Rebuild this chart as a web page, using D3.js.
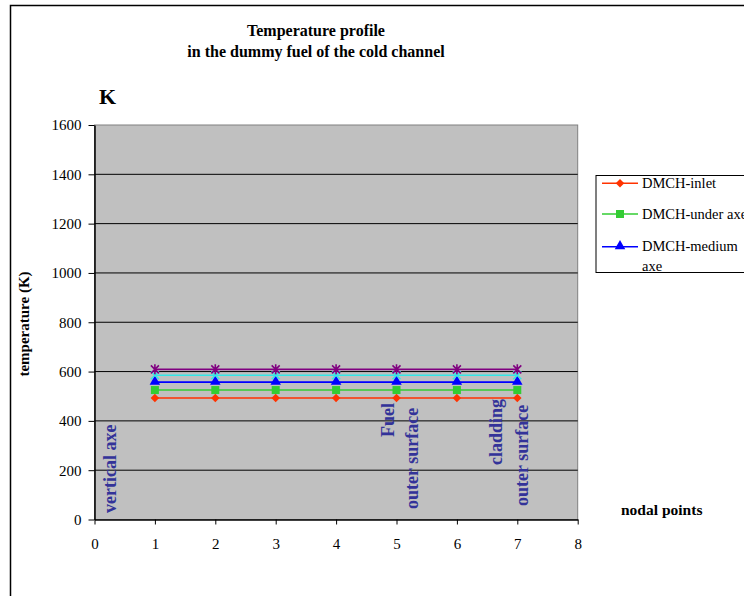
<!DOCTYPE html>
<html>
<head>
<meta charset="utf-8">
<script src="https://cdn.jsdelivr.net/npm/d3@7/dist/d3.min.js"></script>
<style>
  html, body { margin: 0; padding: 0; background: #fff; }
  svg { display: block; font-family: "Liberation Serif", "Times New Roman", serif; }
</style>
</head>
<body>
<svg id="chart" width="744" height="596"></svg>
<script>
// Nodal points along the radius of the dummy fuel
const nodes = [1, 2, 3, 4, 5, 6, 7];

// Temperatures (K) at each nodal point, per axial level
const inlet   = [493, 493, 493, 493, 493, 493, 493];
const under   = [525, 525, 525, 525, 525, 525, 525];
const medium  = [557, 557, 557, 557, 557, 557, 557];
const upper   = [585, 585, 585, 585, 585, 585, 585];
const outlet  = [609, 609, 609, 609, 609, 609, 609];

const seriesNames  = ["DMCH-inlet", "DMCH-under axe", "DMCH-medium axe", "DMCH-upper axe", "DMCH-outlet"];
const seriesColors = ["#ff3300", "#33cc33", "#0000ff", "#33e6e6", "#800080"];
const seriesShapes = ["diamond", "square", "triangle", "x", "star"];

const xTicks = [0, 1, 2, 3, 4, 5, 6, 7, 8];
const yTicks = [0, 200, 400, 600, 800, 1000, 1200, 1400, 1600];

const series = [inlet, under, medium, upper, outlet].map((vals, i) => ({
  name: seriesNames[i], color: seriesColors[i], shape: seriesShapes[i],
  points: nodes.map((n, j) => ({ x: n, y: vals[j] }))
}));

const svg = d3.select("#chart");
const plot = { left: 94.5, right: 577.7, top: 125, bottom: 519.5 };

const x = d3.scaleLinear().domain([0, 8]).range([plot.left, plot.right]);
const y = d3.scaleLinear().domain([0, 1600]).range([plot.bottom, plot.top]);

// Chart frame
svg.append("rect").attr("x", 10.5).attr("y", 5.5).attr("width", 760).attr("height", 620)
  .attr("fill", "#fff").attr("stroke", "#000").attr("stroke-width", 1.5);

// Title
const title = svg.append("text").attr("text-anchor", "middle")
  .attr("font-weight", "bold").attr("font-size", 16).attr("fill", "#000");
title.append("tspan").attr("x", 316).attr("y", 36).text("Temperature profile");
title.append("tspan").attr("x", 316).attr("y", 57).text("in the dummy fuel of the cold channel");

// Unit label
svg.append("text").attr("x", 99).attr("y", 104).attr("font-weight", "bold")
  .attr("font-size", 22).text("K");

// Plot area
svg.append("rect").attr("x", plot.left).attr("y", plot.top)
  .attr("width", plot.right - plot.left).attr("height", plot.bottom - plot.top)
  .attr("fill", "#c0c0c0").attr("stroke", "#808080").attr("stroke-width", 1);

// Horizontal gridlines
svg.append("g").selectAll("line").data(yTicks.filter(d => d > 0 && d < 1600)).join("line")
  .attr("x1", plot.left).attr("x2", plot.right)
  .attr("y1", d => y(d)).attr("y2", d => y(d))
  .attr("stroke", "#000").attr("stroke-width", 1);

// Axes
const yAxis = svg.append("g").attr("transform", `translate(${plot.left},0)`)
  .call(d3.axisLeft(y).tickValues(yTicks).tickFormat(d3.format("d"))
    .tickSize(6).tickPadding(7).tickSizeOuter(0));
const xAxis = svg.append("g").attr("transform", `translate(0,${plot.bottom})`)
  .call(d3.axisBottom(x).tickValues(xTicks).tickFormat(d3.format("d"))
    .tickSize(5).tickPadding(14).tickSizeOuter(0));
[yAxis, xAxis].forEach(a => {
  a.attr("font-family", "Liberation Serif, Times New Roman, serif").attr("font-size", 15);
  a.selectAll("text").attr("fill", "#000");
  a.selectAll("line").attr("stroke", "#000");
  a.select(".domain").attr("stroke", "#000").attr("stroke-width", 1.5);
});

// Axis titles
svg.append("text").attr("transform", "translate(28.5,324) rotate(-90)")
  .attr("text-anchor", "middle").attr("font-weight", "bold").attr("font-size", 15)
  .text("temperature (K)");
svg.append("text").attr("x", 621).attr("y", 515).attr("font-weight", "bold")
  .attr("font-size", 15.5).text("nodal points");

// Annotations inside the plot
const annColor = "#333399";
const annotations = [
  { text: "vertical axe", bx: 116, by: 513 },
  { text: "Fuel", bx: 394, by: 437 },
  { text: "outer surface", bx: 418, by: 509 },
  { text: "cladding", bx: 502, by: 465 },
  { text: "outer surface", bx: 527.5, by: 506 }
];
svg.append("g").selectAll("text").data(annotations).join("text")
  .attr("transform", d => `translate(${d.bx},${d.by}) rotate(-90)`)
  .attr("font-weight", "bold").attr("font-size", 18).attr("fill", annColor)
  .text(d => d.text);

// Marker drawing
function marker(g, shape, color) {
  if (shape === "diamond") {
    g.append("path").attr("d", d3.symbol(d3.symbolSquare, 36)())
      .attr("transform", "rotate(45)").attr("fill", color);
  } else if (shape === "square") {
    g.append("path").attr("d", d3.symbol(d3.symbolSquare, 64)()).attr("fill", color);
  } else if (shape === "triangle") {
    g.append("path").attr("d", d3.symbol(d3.symbolTriangle, 48)())
      .attr("transform", "translate(0,-0.5)").attr("fill", color);
  } else if (shape === "x") {
    g.append("path").attr("d", "M-4,-4L4,4M-4,4L4,-4")
      .attr("stroke", color).attr("stroke-width", 1.6).attr("fill", "none");
  } else if (shape === "star") {
    g.append("path").attr("d", "M-4,-4L4,4M-4,4L4,-4M0,-5L0,5")
      .attr("stroke", color).attr("stroke-width", 1.6).attr("fill", "none");
  }
}

// Series lines and markers
const line = d3.line().x(d => x(d.x)).y(d => y(d.y));
series.forEach(s => {
  const g = svg.append("g");
  g.append("path").datum(s.points).attr("d", line)
    .attr("fill", "none").attr("stroke", s.color).attr("stroke-width", 1.6);
  g.selectAll("g").data(s.points).join("g")
    .attr("transform", d => `translate(${x(d.x)},${y(d.y)})`)
    .each(function () { marker(d3.select(this), s.shape, s.color); });
});

// Legend (the box runs past the right edge of the page)
const legend = svg.append("g");
legend.append("rect").attr("x", 596).attr("y", 175.5).attr("width", 200).attr("height", 97)
  .attr("fill", "#fff").attr("stroke", "#000").attr("stroke-width", 1);
const legendRows = [
  { s: series[0], y: 183.3, lines: ["DMCH-inlet"] },
  { s: series[1], y: 214, lines: ["DMCH-under axe"] },
  { s: series[2], y: 246.7, lines: ["DMCH-medium", "axe"] }
];
legendRows.forEach(r => {
  const g = legend.append("g");
  g.append("line").attr("x1", 602).attr("x2", 638).attr("y1", r.y).attr("y2", r.y)
    .attr("stroke", r.s.color).attr("stroke-width", 1.6);
  marker(g.append("g").attr("transform", `translate(620,${r.y})`), r.s.shape, r.s.color);
  const t = g.append("text").attr("font-size", 14.5).attr("fill", "#000");
  r.lines.forEach((ln, i) => {
    t.append("tspan").attr("x", 642).attr("y", r.y + 4.5 + i * 20).text(ln);
  });
});
</script>
</body>
</html>
